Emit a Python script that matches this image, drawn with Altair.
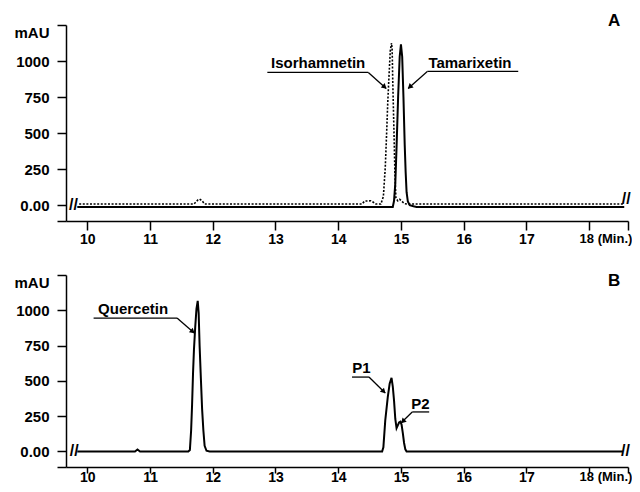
import altair as alt
import pandas as pd

FONT = "Liberation Sans"

# ---------------- data ----------------
# Panel A, dotted trace: Isorhamnetin
iso_t = [9.87, 11.70, 11.76, 11.79, 11.83, 11.87, 14.38, 14.42, 14.52, 14.56, 14.60,
         14.68, 14.72, 14.75, 14.77, 14.79, 14.81, 14.83, 14.85, 14.86, 14.87, 14.89,
         14.905, 14.92, 14.95, 14.98, 15.02, 15.06, 15.10, 18.56]
iso_v = [8, 8, 35, 42, 30, 8, 8, 28, 30, 20, 8,
         8, 60, 260, 480, 715, 900, 1070, 1125, 1080, 850, 490,
         200, 50, 30, 40, 25, 10, 8, 8]

# Panel A, solid trace: Tamarixetin
tam_t = [9.84, 14.87, 14.89, 14.91, 14.93, 14.955, 14.98, 15.00, 15.02, 15.04, 15.06,
         15.075, 15.09, 15.11, 15.14, 15.20, 15.25, 18.56]
tam_v = [-12, -12, 30, 150, 400, 750, 1030, 1115, 1030, 750, 420,
         230, 90, 25, 0, -8, -12, -12]

# Panel B, solid trace: sample
smp_t = [9.84, 10.76, 10.80, 10.84, 11.61, 11.635, 11.655, 11.67, 11.685, 11.70, 11.72,
         11.74, 11.76, 11.775, 11.79, 11.81, 11.83, 11.85, 11.87, 11.90, 11.95,
         14.70, 14.72, 14.75, 14.79, 14.82, 14.85, 14.87, 14.89, 14.91, 14.93, 14.95,
         14.97, 14.99, 15.01, 15.03, 15.05, 15.07, 15.09, 18.54]
smp_v = [0, 0, 14, 0, 0, 10, 150, 330, 550, 720, 880,
         1010, 1067, 980, 750, 520, 300, 150, 40, 5, 0,
         0, 30, 220, 385, 480, 521, 460, 360, 230, 165, 185,
         205, 211, 190, 130, 60, 15, 0, 0]

x_ticks = [10, 11, 12, 13, 14, 15, 16, 17, 18, 18.62]
y_ticks = [-110, 0, 250, 500, 750, 1000, 1250]
x_domain = [9.66, 18.62]
y_domain = [-110, 1250]

# annotations, panel A
a_names = ["Isorhamnetin", "Tamarixetin"]
a_text_t = [13.68, 16.10]
a_text_v = [983, 983]
a_ul_t1 = [12.87, 15.42]
a_ul_t2 = [14.48, 16.87]
a_ul_v = [921, 928]
a_ld_t1 = [14.48, 15.42]
a_ld_t2 = [14.765, 15.115]
a_ld_v2 = [810, 810]
a_ar_t = [14.73, 15.15]
a_ar_v = [824, 824]
a_ar_ang = [132, 227]

# annotations, panel B
b_names = ["Quercetin", "P1", "P2"]
b_text_t = [10.73, 14.37, 15.31]
b_text_v = [1009, 591, 336]
b_ul_t1 = [10.10, 14.22, 15.18]
b_ul_t2 = [11.43, 14.49, 15.45]
b_ul_v = [945, 527, 280]
b_ld_t1 = [11.43, 14.49, 15.18]
b_ld_t2 = [11.705, 14.75, 15.00]
b_ld_v2 = [839, 414, 202]
b_ar_t = [11.67, 14.716, 15.04]
b_ar_v = [853, 429, 217]
b_ar_ang = [131, 135, 225]


def xaxis(tick_size, pad):
    return alt.Axis(values=x_ticks,
                    labelExpr="datum.value > 18.5 ? '' : datum.value == 18 ? '18 (Min.)' : format(datum.value, 'd')",
                    labelAlign={"condition": {"test": "datum.value == 18", "value": "left"},
                                "value": "center"},
                    labelOffset={"condition": {"test": "datum.value == 18", "value": -10},
                                 "value": 0},
                    labelFontSize={"condition": {"test": "datum.value == 18", "value": 13},
                                   "value": 14},
                    title=None, grid=False, tickSize=tick_size, tickWidth=1.5,
                    tickColor="black", domainColor="black", domainWidth=1.5,
                    labelColor="black", labelFont=FONT,
                    labelFontWeight="bold", labelPadding=pad, labelFlush=False,
                    labelOverlap=False)


def yaxis():
    return alt.Axis(values=y_ticks,
                    labelExpr="datum.value == 1250 ? 'mAU' : datum.value == 0 ? '0.00' : datum.value < 0 ? '' : format(datum.value, 'd')",
                    labelOffset={"condition": {"test": "datum.value == 1250", "value": 7},
                                 "value": 0},
                    title=None, grid=False, tickSize=9, tickWidth=1.5,
                    tickColor="black", domainColor="black", domainWidth=1.5,
                    labelColor="black", labelFont=FONT, labelFontSize=15,
                    labelFontWeight="bold", labelPadding=8, labelFlush=False,
                    labelOverlap=False)


def panel(traces, ann, letter, letter_v, breaks, tick_size, pad, height):
    xs = alt.Scale(domain=x_domain, nice=False, zero=False)
    ys = alt.Scale(domain=y_domain, nice=False, zero=False)
    xa = xaxis(tick_size, pad)
    ya = yaxis()

    def X(f):
        return alt.X(f, type="quantitative", scale=xs, axis=xa)

    def Y(f):
        return alt.Y(f, type="quantitative", scale=ys, axis=ya)

    layers = []
    for t, v, dash, w in traces:
        df = pd.DataFrame({"t": t, "v": v})
        kw = dict(color="black", strokeWidth=w)
        if dash:
            kw["strokeDash"] = dash
        layers.append(alt.Chart(df).mark_line(**kw).encode(x=X("t"), y=Y("v")))

    names, tt, tv, u1, u2, uv, l1t, l2t, l2v, at, av, ang = ann
    lab = pd.DataFrame({"name": names, "t": tt, "v": tv})
    layers.append(alt.Chart(lab).mark_text(font=FONT, fontSize=15, fontWeight="bold",
                                           color="black", baseline="middle", align="center")
                  .encode(x=X("t"), y=Y("v"), text="name:N"))
    ul = pd.DataFrame({"t1": u1, "t2": u2, "v": uv})
    layers.append(alt.Chart(ul).mark_rule(color="black", strokeWidth=1.3)
                  .encode(x=X("t1"), x2="t2:Q", y=Y("v")))
    ldf = pd.DataFrame({"t1": l1t, "v1": uv, "t2": l2t, "v2": l2v})
    layers.append(alt.Chart(ldf).mark_rule(color="black", strokeWidth=1.3)
                  .encode(x=X("t1"), x2="t2:Q", y=Y("v1"), y2="v2:Q"))
    ar = pd.DataFrame({"t": at, "v": av, "a": ang})
    layers.append(alt.Chart(ar).mark_point(shape="triangle", filled=True, size=34,
                                           color="black", opacity=1)
                  .encode(x=X("t"), y=Y("v"), angle=alt.Angle("a:Q", scale=None)))

    lt = pd.DataFrame({"s": [letter], "t": [18.40], "v": [letter_v]})
    layers.append(alt.Chart(lt).mark_text(font=FONT, fontSize=17, fontWeight="bold",
                                          color="black", baseline="middle", align="center")
                  .encode(x=X("t"), y=Y("v"), text="s:N"))

    bk = pd.DataFrame({"s": ["//", "//"], "t": breaks[0], "v": breaks[1]})
    layers.append(alt.Chart(bk).mark_text(font=FONT, fontSize=16, fontWeight="bold",
                                          color="black", baseline="middle", align="center")
                  .encode(x=X("t"), y=Y("v"), text="s:N"))

    return alt.layer(*layers).properties(width=562, height=height)


ann_a = [a_names, a_text_t, a_text_v, a_ul_t1, a_ul_t2, a_ul_v, a_ld_t1, a_ld_t2, a_ld_v2,
         a_ar_t, a_ar_v, a_ar_ang]
ann_b = [b_names, b_text_t, b_text_v, b_ul_t1, b_ul_t2, b_ul_v, b_ld_t1, b_ld_t2, b_ld_v2,
         b_ar_t, b_ar_v, b_ar_ang]

top = panel([(iso_t, iso_v, [2, 1.6], 1.6), (tam_t, tam_v, None, 2.0)], ann_a,
            "A", 1278, ([9.78, 18.59], [0, 40]), 9, 2, 196)
bottom = panel([(smp_t, smp_v, None, 2.0)], ann_b,
               "B", 1207, ([9.79, 18.58], [0, 0]), 6, -3, 192)

chart = alt.vconcat(top, bottom, spacing=26).properties(
    padding={"left": 5, "top": 3, "right": 0, "bottom": 0}
).configure_view(stroke=None)

chart.save("out.html", embed_options={"renderer": "svg", "actions": False})
